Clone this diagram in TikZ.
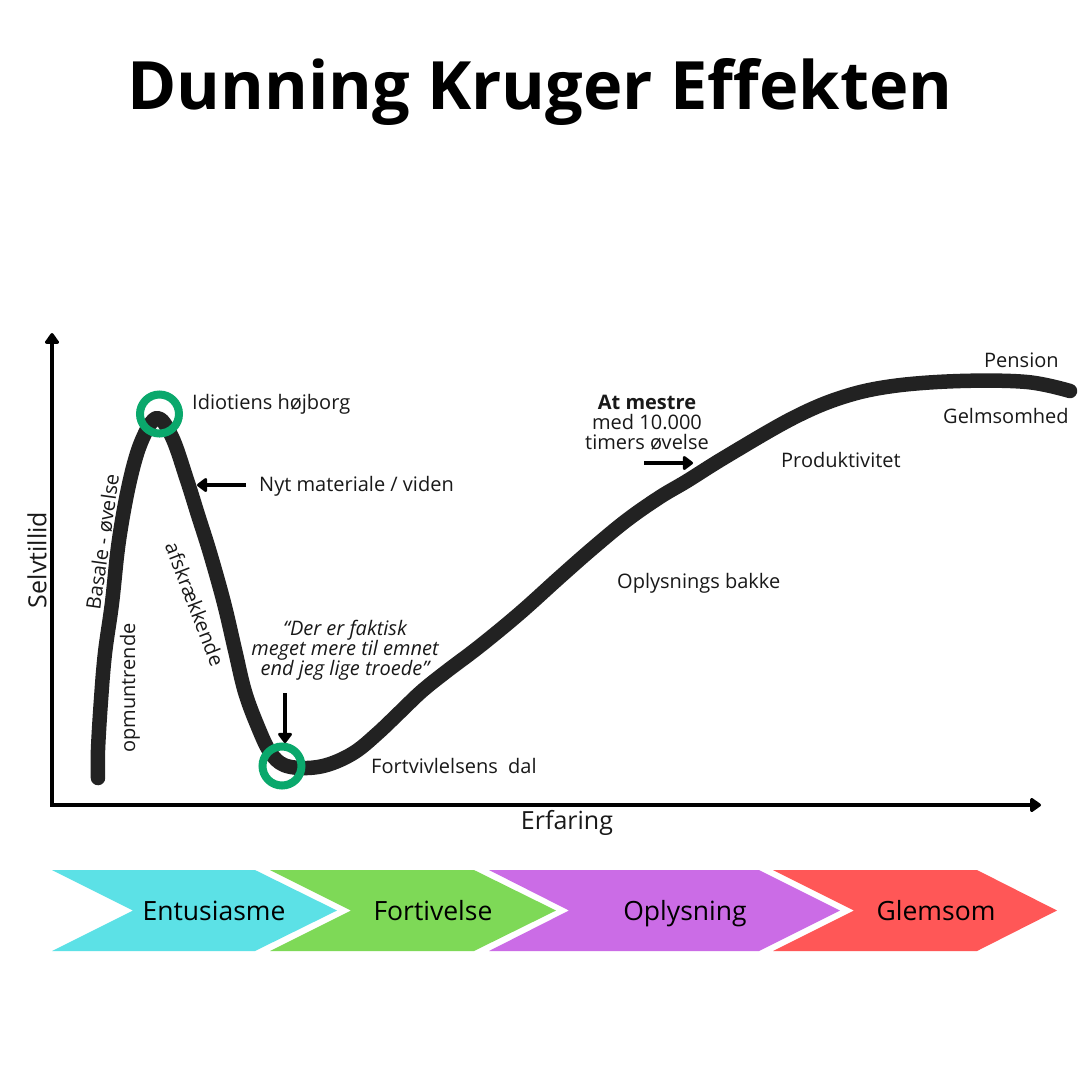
\documentclass[tikz,border=0pt]{standalone}
\usepackage{fontspec}
\setmainfont{Open Sans}
\usetikzlibrary{arrows.meta}
\definecolor{curvec}{HTML}{222222}
\definecolor{ringc}{HTML}{0AA86C}
\definecolor{cyanc}{HTML}{5CE1E6}
\definecolor{greenc}{HTML}{7ED957}
\definecolor{purplec}{HTML}{CB6CE6}
\definecolor{redc}{HTML}{FF5757}
\tikzset{
  lbl/.style={font=\fontsize{20}{20}\selectfont,inner sep=0pt,text=black!90},
  axlbl/.style={font=\fontsize{25}{26}\selectfont,inner sep=0pt,text=black!90},
  chevlbl/.style={font=\fontsize{26.5}{28}\selectfont,inner sep=0pt,text=black,anchor=base},
  axisline/.style={line width=3.6pt,-{Triangle[length=12pt,width=16pt,round]}},
  pointer/.style={line width=3.6pt,-{Triangle[length=11pt,width=16pt,round]}},
  ring/.style={draw=ringc,line width=8pt,circle,minimum size=39pt,inner sep=0pt},
}
\begin{document}
\begin{tikzpicture}[x=1pt,y=-1pt]
\useasboundingbox (0,0) rectangle (1080,1080);
\fill[white] (0,0) rectangle (1080,1080);
\node[inner sep=0pt,anchor=base,font=\fontsize{66.7}{70}\selectfont\bfseries] (title) at (540,109) {Dunning Kruger Effekten};
% axes
\coordinate (origin) at (52,805);
\coordinate (ytop) at (52,333);
\coordinate (xend) at (1041,805);
\draw[axisline] (origin) -- (ytop);
\draw[axisline] ([xshift=-1.8pt]origin) -- (xend);
% curve
\draw[curvec,line width=14.5pt,line cap=round,line join=round] plot[smooth,tension=0.6] coordinates {
 (98,778) (98,750) (101,700) (105,653) (112,603) (119,540) (130,480) (142,440) (157,418)
 (172,437) (187,480) (198,515) (210,553) (224,603) (235,650) (245,692) (258,727) (270,752) (284,765)
 (307,768) (330,764) (355,752) (378,733) (400,712) (422,691) (447,671) (480,646) (520,613) (560,577)
 (593,548) (627,520) (660,497) (687,481) (727,456) (793,418) (843,397) (893,386) (960,381)
 (1027,382) (1070,391)};
% rings
\node[ring] (peak) at (159.5,414) {};
\node[ring] (valley) at (282,766) {};
% labels
\node[lbl,anchor=base west] (idiot) at (192,409) {Idiotiens højborg};
\node[lbl,anchor=base west] (nyt) at (259,491) {Nyt materiale / viden};
\coordinate (nytend) at (197,485);
\coordinate (nytstart) at (246,485);
\draw[pointer] (nytstart) -- (nytend);
\node[lbl,rotate=82] (basale) at (102.5,542) {Basale - øvelse};
\node[lbl,rotate=90] (opm) at (130,688) {opmuntrende};
\node[lbl,rotate=-69] (afskr) at (195,604) {afskrækkende};
\node[lbl,align=center,font=\fontsize{20}{20}\selectfont\itshape] (quote) at (345,650) {“Der er faktisk\\meget mere til emnet\\end jeg lige troede”};
\coordinate (qstart) at (285,693);
\coordinate (qend) at (285,743);
\draw[pointer] (qstart) -- (qend);
\node[lbl,anchor=base west] (fort) at (371,773) {Fortvivlelsens\ \ dal};
\node[lbl,anchor=base west] (opl) at (617,588) {Oplysnings bakke};
\node[lbl,align=center] (mestre) at (647,423) {\textbf{At mestre}\\med 10.000\\timers øvelse};
\coordinate (mstart) at (644,463);
\coordinate (mend) at (693,463);
\draw[pointer] (mstart) -- (mend);
\node[lbl,anchor=base west] (prod) at (781,467) {Produktivitet};
\node[lbl,anchor=base west] (pens) at (984,367) {Pension};
\node[lbl,anchor=base west] (gelm) at (943,423) {Gelmsomhed};
\node[axlbl,rotate=90] (selv) at (37,560) {Selvtillid};
\node[axlbl,anchor=base] (erf) at (567,829) {Erfaring};
% chevrons
\fill[cyanc] (52,870) -- (255,870) -- (337,910.5) -- (255,951) -- (52,951) -- (133,910.5) -- cycle;
\fill[greenc] (270,870) -- (474,870) -- (556,910.5) -- (474,951) -- (270,951) -- (351,910.5) -- cycle;
\fill[purplec] (489,870) -- (759,870) -- (840,910.5) -- (759,951) -- (489,951) -- (569,910.5) -- cycle;
\fill[redc] (773,870) -- (977,870) -- (1057,910.5) -- (977,951) -- (773,951) -- (854,910.5) -- cycle;
\node[chevlbl] (c1) at (214,920) {Entusiasme};
\node[chevlbl] (c2) at (433,920) {Fortivelse};
\node[chevlbl] (c3) at (685,920) {Oplysning};
\node[chevlbl] (c4) at (936,920) {Glemsom};
\end{tikzpicture}
\end{document}
